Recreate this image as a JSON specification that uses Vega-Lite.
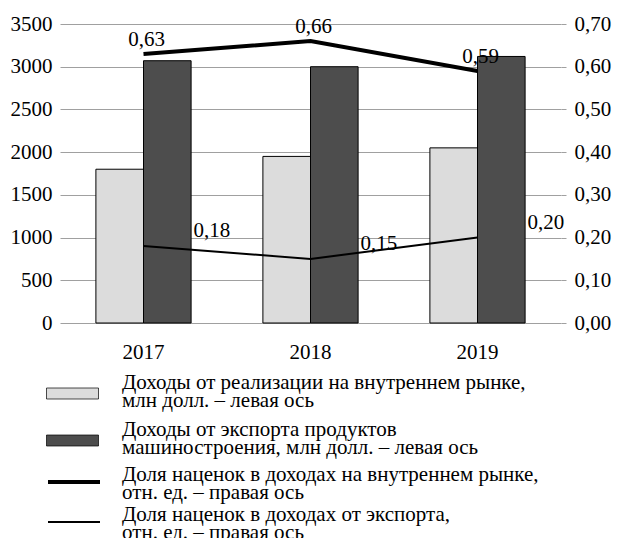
{
  "$schema": "https://vega.github.io/schema/vega-lite/v6.json",
  "width": 501,
  "height": 299,
  "autosize": {"type": "none"},
  "padding": {"left": 60, "top": 24, "right": 56, "bottom": 215},
  "background": "white",
  "datasets": {
    "bars": [
      {"year": "2017", "series": "Доходы от реализации на внутреннем рынке,\nмлн долл. – левая ось", "value": 1800},
      {"year": "2017", "series": "Доходы от экспорта продуктов\nмашиностроения, млн долл. – левая ось", "value": 3070},
      {"year": "2018", "series": "Доходы от реализации на внутреннем рынке,\nмлн долл. – левая ось", "value": 1950},
      {"year": "2018", "series": "Доходы от экспорта продуктов\nмашиностроения, млн долл. – левая ось", "value": 3000},
      {"year": "2019", "series": "Доходы от реализации на внутреннем рынке,\nмлн долл. – левая ось", "value": 2050},
      {"year": "2019", "series": "Доходы от экспорта продуктов\nмашиностроения, млн долл. – левая ось", "value": 3120}
    ],
    "lines": [
      {"year": "2017", "series": "Доля наценок в доходах на внутреннем рынке,\nотн. ед. – правая ось", "share": 0.63},
      {"year": "2018", "series": "Доля наценок в доходах на внутреннем рынке,\nотн. ед. – правая ось", "share": 0.66},
      {"year": "2019", "series": "Доля наценок в доходах на внутреннем рынке,\nотн. ед. – правая ось", "share": 0.59},
      {"year": "2017", "series": "Доля наценок в доходах от экспорта,\nотн. ед. – правая ось", "share": 0.18},
      {"year": "2018", "series": "Доля наценок в доходах от экспорта,\nотн. ед. – правая ось", "share": 0.15},
      {"year": "2019", "series": "Доля наценок в доходах от экспорта,\nотн. ед. – правая ось", "share": 0.20}
    ]
  },
  "config": {
    "locale": {"number": {"decimal": ",", "thousands": "", "grouping": [3], "currency": ["", ""]}},
    "font": "Liberation Serif",
    "view": {"stroke": null},
    "style": {"guide-label": {"lineHeight": 18}},
    "axis": {"labelFont": "Liberation Serif", "labelFontSize": 21, "labelColor": "#000", "title": null},
    "legend": {"labelFont": "Liberation Serif", "labelFontSize": 21, "labelColor": "#000", "labelLimit": 0, "padding": 0, "title": null}
  },
  "layer": [
    {
      "data": {"name": "bars"},
      "mark": {"type": "bar", "stroke": "#000", "strokeWidth": 1},
      "encoding": {
        "x": {"field": "year", "type": "nominal", "scale": {"paddingInner": 0.43, "paddingOuter": 0.215},
              "axis": {"labelAngle": 0, "domain": false, "ticks": false, "labelPadding": 18}},
        "xOffset": {"field": "series", "type": "nominal", "sort": null},
        "y": {"field": "value", "type": "quantitative", "scale": {"domain": [0, 3500]},
              "axis": {"values": [0, 500, 1000, 1500, 2000, 2500, 3000, 3500], "format": "d", "grid": true, "gridColor": "#a0a0a0", "domain": false, "ticks": false, "labelPadding": 8}},
        "fill": {"field": "series", "type": "nominal",
                 "scale": {"domain": ["Доходы от реализации на внутреннем рынке,\nмлн долл. – левая ось", "Доходы от экспорта продуктов\nмашиностроения, млн долл. – левая ось"], "range": ["#dcdcdc", "#4d4d4d"]},
                 "legend": {"orient": "none", "legendX": -14, "legendY": 348, "direction": "vertical",
                            "symbolType": "M-1,0.55H4.2V1.65H-1Z", "symbolSize": 400, "symbolStrokeColor": "#000", "symbolStrokeWidth": 0.7,
                            "labelExpr": "split(datum.label, '\\n')", "labelOffset": 55, "rowPadding": 7}}
      }
    },
    {
      "data": {"name": "lines"},
      "layer": [
        {
          "mark": {"type": "line", "color": "#000"},
          "encoding": {
            "x": {"field": "year", "type": "nominal"},
            "y": {"field": "share", "type": "quantitative", "scale": {"domain": [0, 0.7]},
                  "axis": {"orient": "right", "values": [0, 0.1, 0.2, 0.3, 0.4, 0.5, 0.6, 0.7], "format": ".2f", "grid": false, "domain": false, "ticks": true, "tickColor": "#a0a0a0", "tickSize": 5, "labelPadding": 8}},
            "strokeWidth": {"field": "series", "type": "ordinal",
                            "scale": {"domain": ["Доля наценок в доходах на внутреннем рынке,\nотн. ед. – правая ось", "Доля наценок в доходах от экспорта,\nотн. ед. – правая ось"], "range": [4, 2]},
                            "legend": {"orient": "none", "legendX": -14, "legendY": 439, "direction": "vertical",
                                       "symbolType": "M-1,0.7L4.2,0.7", "symbolSize": 400, "symbolStrokeColor": "#000", "symbolFillColor": "transparent",
                                       "labelExpr": "split(datum.label, '\\n')", "labelOffset": 52, "rowPadding": 1}}
          }
        },
        {
          "transform": [{"filter": {"field": "series", "equal": "Доля наценок в доходах на внутреннем рынке,\nотн. ед. – правая ось"}}],
          "mark": {"type": "text", "font": "Liberation Serif", "fontSize": 21, "color": "#000", "align": "center", "baseline": "middle", "dx": 3, "dy": -14},
          "encoding": {
            "x": {"field": "year", "type": "nominal"},
            "y": {"field": "share", "type": "quantitative"},
            "text": {"field": "share", "type": "quantitative", "format": ".2f"}
          }
        },
        {
          "transform": [{"filter": {"field": "series", "equal": "Доля наценок в доходах от экспорта,\nотн. ед. – правая ось"}}],
          "mark": {"type": "text", "font": "Liberation Serif", "fontSize": 21, "color": "#000", "align": "left", "baseline": "middle", "dx": 50, "dy": -15},
          "encoding": {
            "x": {"field": "year", "type": "nominal"},
            "y": {"field": "share", "type": "quantitative"},
            "text": {"field": "share", "type": "quantitative", "format": ".2f"}
          }
        }
      ]
    }
  ],
  "resolve": {"scale": {"y": "independent"}}
}
